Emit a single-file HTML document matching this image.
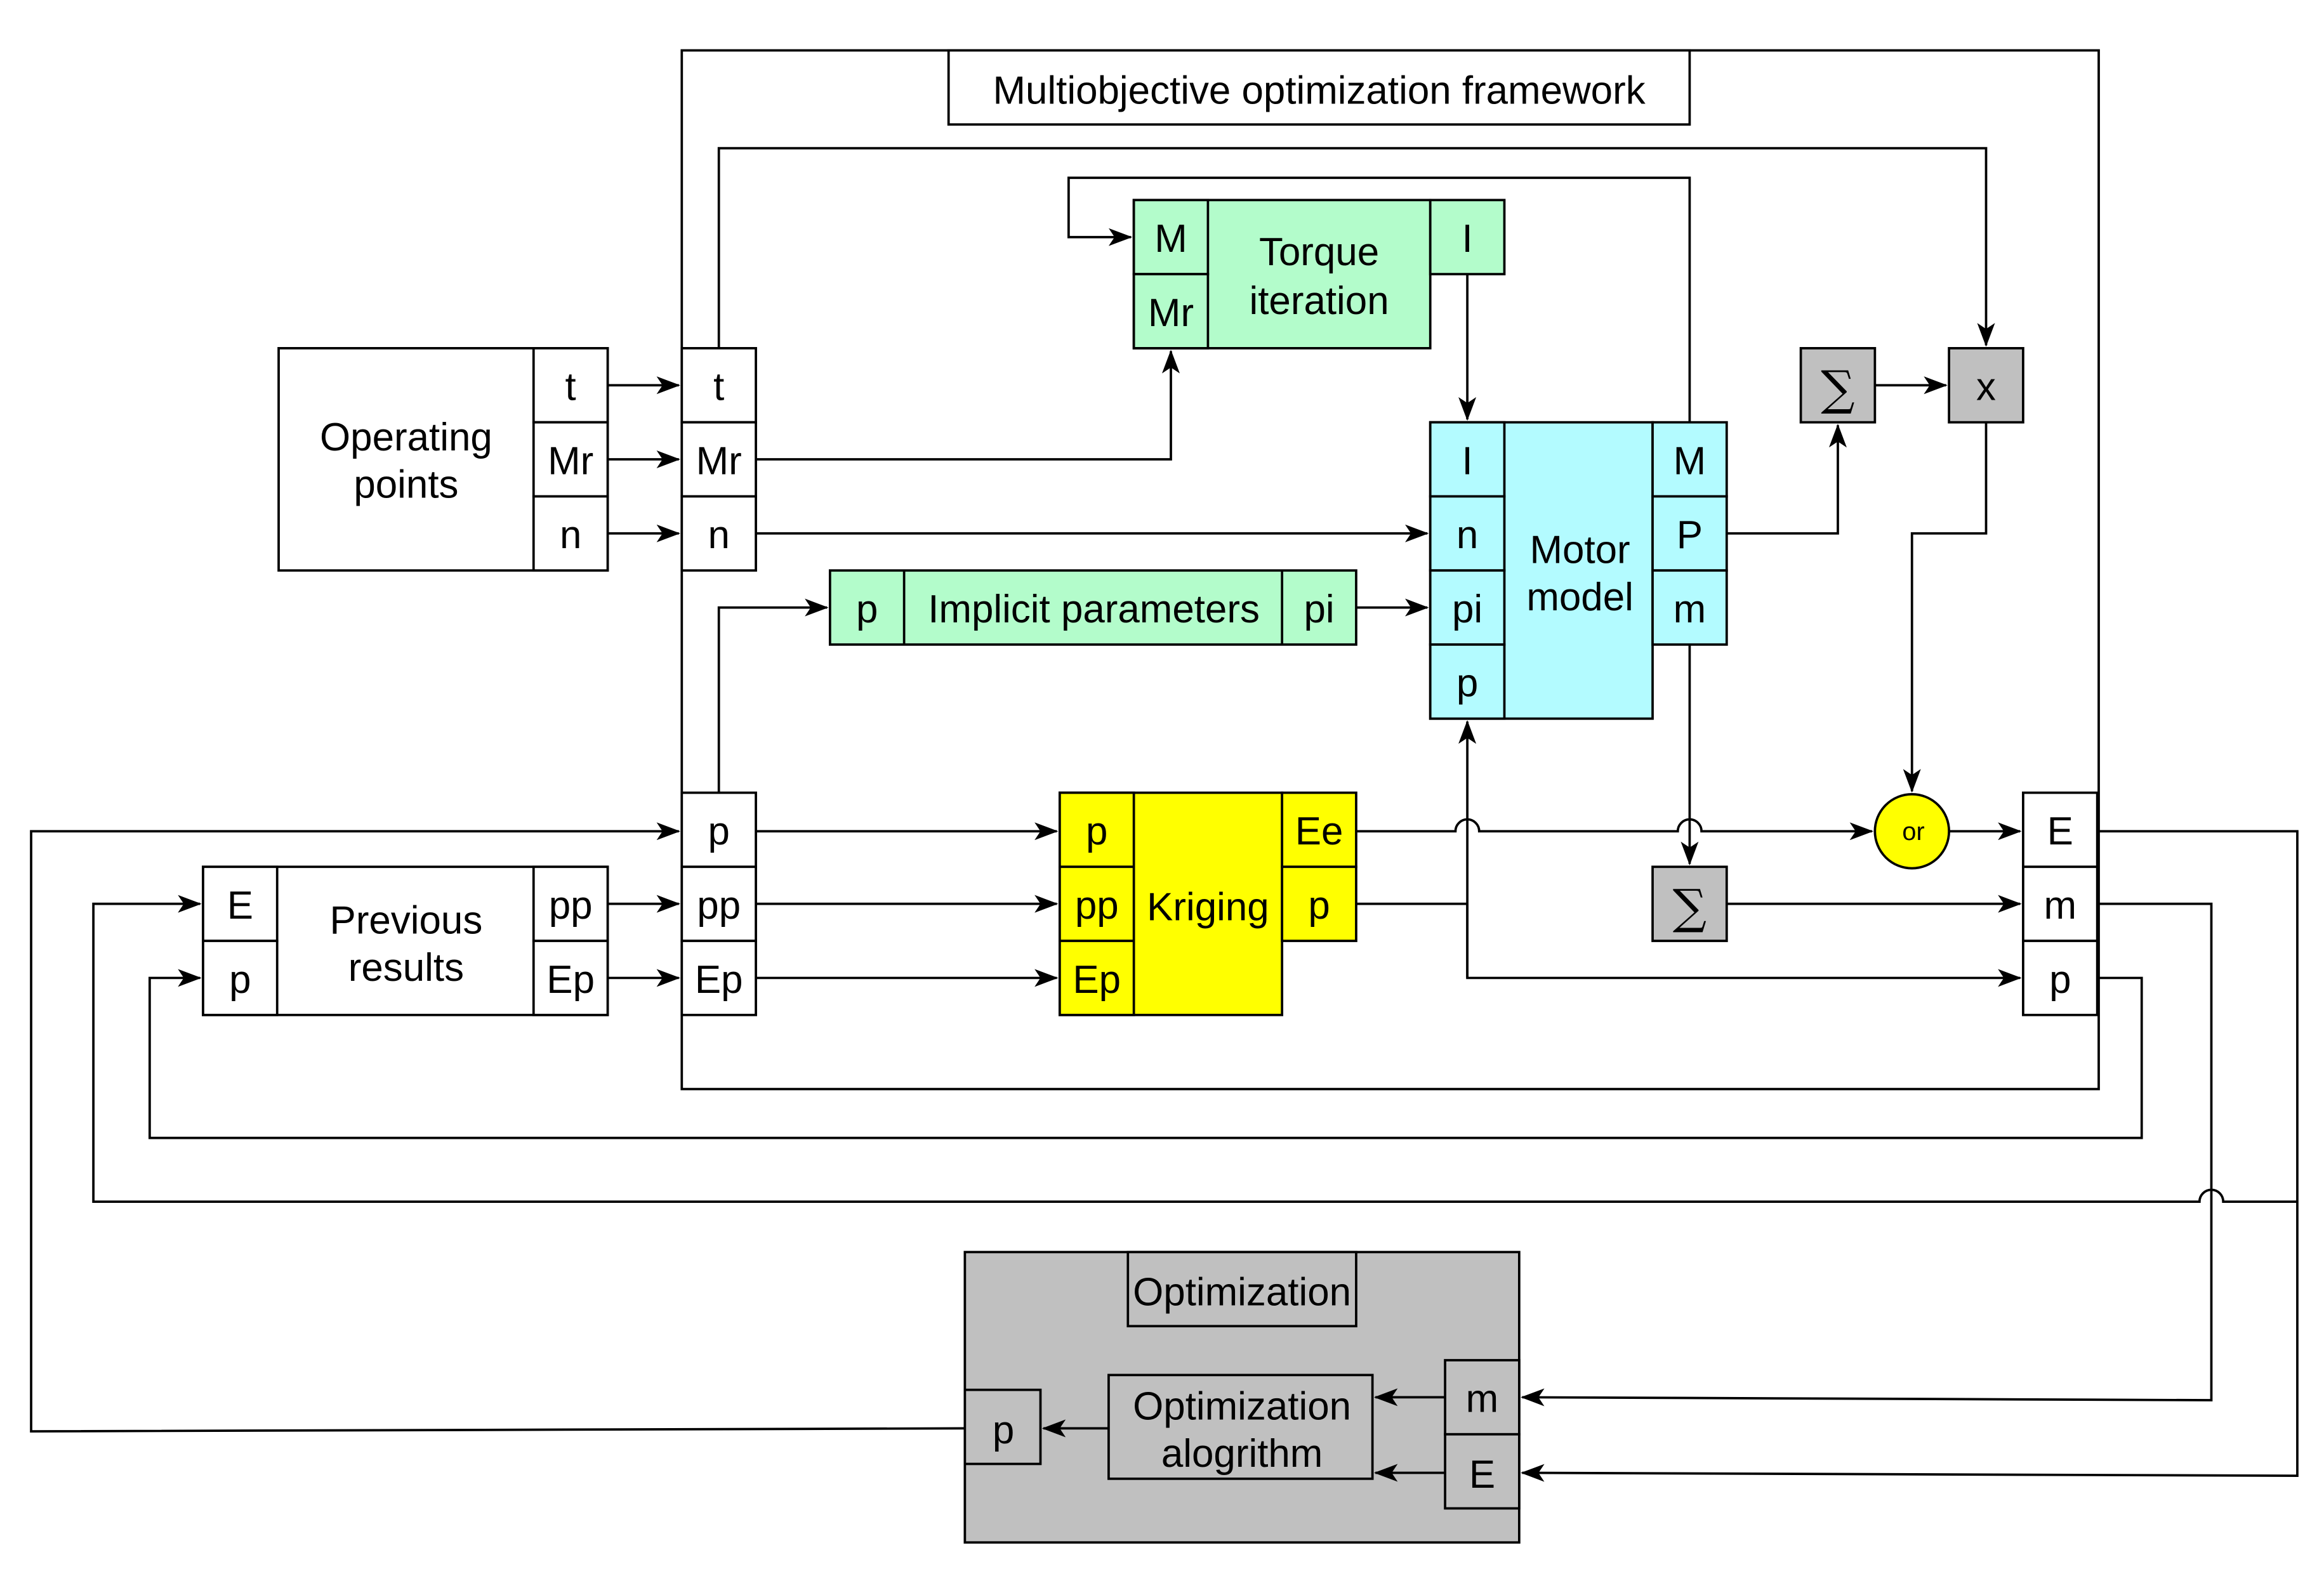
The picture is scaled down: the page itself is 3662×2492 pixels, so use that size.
<!DOCTYPE html>
<html><head><meta charset="utf-8"><style>html,body{margin:0;padding:0;background:#fff}svg{display:block}</style></head>
<body>
<svg width="3662" height="2492" viewBox="0 0 1568 1067" xmlns="http://www.w3.org/2000/svg" font-family="Liberation Sans, sans-serif" font-size="26.5" text-anchor="middle">
<defs>
<marker id="a" viewBox="0 0 16 12" refX="15" refY="6" markerWidth="16" markerHeight="12" markerUnits="userSpaceOnUse" orient="auto">
<path d="M0,0 L16,6 L0,12 L4,6 Z" fill="#000"/>
</marker>
</defs>
<g stroke="#000" stroke-width="1.6" fill="none">
<rect x="460" y="34" width="956" height="701" fill="#fff"/>
<rect x="640" y="34" width="500" height="50" fill="#fff"/>
<path d="M485,235 V100 H1340 V233" marker-end="url(#a)"/>
<path d="M1140,285 V120 H721 V160 H763" marker-end="url(#a)"/>
<path d="M510,310 H790 V237" marker-end="url(#a)"/>
<path d="M990,185 V283" marker-end="url(#a)"/>
<path d="M510,360 H963" marker-end="url(#a)"/>
<path d="M485,535 V410 H558" marker-end="url(#a)"/>
<path d="M915,410 H963" marker-end="url(#a)"/>
<path d="M1165,360 H1240 V287" marker-end="url(#a)"/>
<path d="M1265,260 H1313" marker-end="url(#a)"/>
<path d="M1340,285 V360 H1290 V534" marker-end="url(#a)"/>
<path d="M1315,561 H1363" marker-end="url(#a)"/>
<path d="M410,260 H458" marker-end="url(#a)"/>
<path d="M410,310 H458" marker-end="url(#a)"/>
<path d="M410,360 H458" marker-end="url(#a)"/>
<path d="M410,610 H458" marker-end="url(#a)"/>
<path d="M410,660 H458" marker-end="url(#a)"/>
<path d="M510,561 H713" marker-end="url(#a)"/>
<path d="M510,610 H713" marker-end="url(#a)"/>
<path d="M510,660 H713" marker-end="url(#a)"/>
<path d="M915,561 H982 A8,8 0 0 1 998,561 H1132 A8,8 0 0 1 1148,561 H1263" marker-end="url(#a)"/>
<path d="M915,610 H990"/>
<path d="M990,660 V487" marker-end="url(#a)"/>
<path d="M990,610 V660 H1363" marker-end="url(#a)"/>
<path d="M1140,435 V583" marker-end="url(#a)"/>
<path d="M1165,610 H1363" marker-end="url(#a)"/>
<path d="M1415,660 H1445 V768 H101 V660 H135" marker-end="url(#a)"/>
<path d="M1415,610 H1492 V945 L1027,943" marker-end="url(#a)"/>
<path d="M1415,561 H1550 V996 L1027,994" marker-end="url(#a)"/>
<path d="M1550,811 H1500 A8,8 0 0 0 1484,811 H63 V610 H135" marker-end="url(#a)"/>
<path d="M651,964 L21,966 V561 H458" marker-end="url(#a)"/>
</g>
<g stroke="#000" stroke-width="1.6">
<rect x="188" y="235" width="222" height="150" fill="#fff"/>
<rect x="360" y="235" width="50" height="50" fill="#fff"/>
<rect x="360" y="285" width="50" height="50" fill="#fff"/>
<rect x="360" y="335" width="50" height="50" fill="#fff"/>
<rect x="460" y="235" width="50" height="50" fill="#fff"/>
<rect x="460" y="285" width="50" height="50" fill="#fff"/>
<rect x="460" y="335" width="50" height="50" fill="#fff"/>
<rect x="460" y="535" width="50" height="50" fill="#fff"/>
<rect x="460" y="585" width="50" height="50" fill="#fff"/>
<rect x="460" y="635" width="50" height="50" fill="#fff"/>
<rect x="765" y="135" width="200" height="100" fill="#b3fccb"/>
<rect x="765" y="135" width="50" height="50" fill="#b3fccb"/>
<rect x="765" y="185" width="50" height="50" fill="#b3fccb"/>
<rect x="965" y="135" width="50" height="50" fill="#b3fccb"/>
<rect x="560" y="385" width="355" height="50" fill="#b3fccb"/>
<line x1="610" y1="385" x2="610" y2="435"/>
<line x1="865" y1="385" x2="865" y2="435"/>
<rect x="965" y="285" width="150" height="200" fill="#b3fbff"/>
<rect x="965" y="285" width="50" height="50" fill="#b3fbff"/>
<rect x="965" y="335" width="50" height="50" fill="#b3fbff"/>
<rect x="965" y="385" width="50" height="50" fill="#b3fbff"/>
<rect x="965" y="435" width="50" height="50" fill="#b3fbff"/>
<rect x="1115" y="285" width="50" height="50" fill="#b3fbff"/>
<rect x="1115" y="335" width="50" height="50" fill="#b3fbff"/>
<rect x="1115" y="385" width="50" height="50" fill="#b3fbff"/>
<rect x="1215" y="235" width="50" height="50" fill="#c0c0c0"/>
<rect x="1315" y="235" width="50" height="50" fill="#c0c0c0"/>
<rect x="1115" y="585" width="50" height="50" fill="#c0c0c0"/>
<circle cx="1290" cy="561" r="25" fill="#ffff00"/>
<rect x="715" y="535" width="150" height="150" fill="#ffff00"/>
<rect x="715" y="535" width="50" height="50" fill="#ffff00"/>
<rect x="715" y="585" width="50" height="50" fill="#ffff00"/>
<rect x="715" y="635" width="50" height="50" fill="#ffff00"/>
<rect x="865" y="535" width="50" height="50" fill="#ffff00"/>
<rect x="865" y="585" width="50" height="50" fill="#ffff00"/>
<rect x="1365" y="535" width="50" height="50" fill="#fff"/>
<rect x="1365" y="585" width="50" height="50" fill="#fff"/>
<rect x="1365" y="635" width="50" height="50" fill="#fff"/>
<rect x="137" y="585" width="273" height="100" fill="#fff"/>
<rect x="137" y="585" width="50" height="50" fill="#fff"/>
<rect x="137" y="635" width="50" height="50" fill="#fff"/>
<rect x="360" y="585" width="50" height="50" fill="#fff"/>
<rect x="360" y="635" width="50" height="50" fill="#fff"/>
<rect x="651" y="845" width="374" height="196" fill="#c0c0c0"/>
<rect x="761" y="845" width="154" height="50" fill="#c0c0c0"/>
<rect x="748" y="928" width="178" height="70" fill="#c0c0c0"/>
<rect x="975" y="918" width="50" height="50" fill="#c0c0c0"/>
<rect x="975" y="968" width="50" height="50" fill="#c0c0c0"/>
<rect x="651" y="938" width="51" height="50" fill="#c0c0c0"/>
</g>
<g fill="none" stroke="#000" stroke-width="1.6">
<path d="M975,943 H928" marker-end="url(#a)"/>
<path d="M975,994 H928" marker-end="url(#a)"/>
<path d="M748,964 H704" marker-end="url(#a)"/>
</g>
<g fill="#000">
<text x="890" y="70">Multiobjective optimization framework</text>
<text x="274" y="304">Operating</text><text x="274" y="336">points</text>
<text x="385" y="270">t</text><text x="385" y="320">Mr</text><text x="385" y="370">n</text>
<text x="485" y="270">t</text><text x="485" y="320">Mr</text><text x="485" y="370">n</text>
<text x="485" y="570">p</text><text x="485" y="620">pp</text><text x="485" y="670">Ep</text>
<text x="790" y="170">M</text><text x="790" y="220">Mr</text>
<text x="890" y="179">Torque</text><text x="890" y="212">iteration</text>
<text x="990" y="170">I</text>
<text x="585" y="420">p</text><text x="738" y="420">Implicit parameters</text><text x="890" y="420">pi</text>
<text x="990" y="320">I</text><text x="990" y="370">n</text><text x="990" y="420">pi</text><text x="990" y="470">p</text>
<text x="1066" y="380">Motor</text><text x="1066" y="412">model</text>
<text x="1140" y="320">M</text><text x="1140" y="370">P</text><text x="1140" y="420">m</text>
<text x="1240" y="273" font-family="DejaVu Serif, serif" font-size="32">∑</text>
<text x="1340" y="270">x</text>
<text x="1140" y="623" font-family="DejaVu Serif, serif" font-size="32">∑</text>
<text x="1291" y="567" font-size="17">or</text>
<text x="740" y="570">p</text><text x="740" y="620">pp</text><text x="740" y="670">Ep</text>
<text x="815" y="621">Kriging</text>
<text x="890" y="570">Ee</text><text x="890" y="620">p</text>
<text x="1390" y="570">E</text><text x="1390" y="620">m</text><text x="1390" y="670">p</text>
<text x="162" y="620">E</text><text x="162" y="670">p</text>
<text x="274" y="630">Previous</text><text x="274" y="662">results</text>
<text x="385" y="620">pp</text><text x="385" y="670">Ep</text>
<text x="838" y="881">Optimization</text>
<text x="838" y="958">Optimization</text><text x="838" y="990">alogrithm</text>
<text x="1000" y="953">m</text><text x="1000" y="1004">E</text>
<text x="677" y="974">p</text>
</g>
</svg>
</body></html>
